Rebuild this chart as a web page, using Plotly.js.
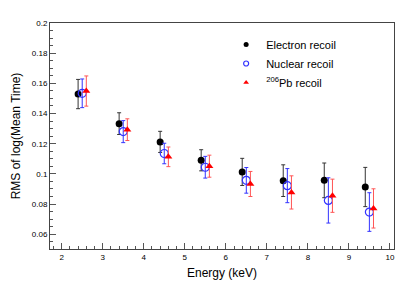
<!DOCTYPE html>
<html>
<head>
<meta charset="utf-8">
<script src="https://cdn.plot.ly/plotly-3.0.1.min.js"></script>
<style>html,body{margin:0;padding:0;background:#fff;}#chart{width:415px;height:294px;}</style>
</head>
<body>
<div id="chart"></div>
<script>
const xElectron = [2.4, 3.4, 4.4, 5.4, 6.4, 7.4, 8.4, 9.4];
const yElectron = [0.1529, 0.1333, 0.1212, 0.1090, 0.1013, 0.0955, 0.0957, 0.0913];
const eElectron = [0.0097, 0.0072, 0.0070, 0.0070, 0.0090, 0.0105, 0.0115, 0.0130];

const xNuclear = [2.5, 3.5, 4.5, 5.5, 6.5, 7.5, 8.5, 9.5];
const yNuclear = [0.1534, 0.1280, 0.1135, 0.1044, 0.0957, 0.0922, 0.0824, 0.0747];
const eNuclear = [0.0095, 0.0073, 0.0068, 0.0072, 0.0085, 0.0113, 0.0150, 0.0128];

const xPb = [2.6, 3.6, 4.6, 5.6, 6.6, 7.6, 8.6, 9.6];
const yPb = [0.1549, 0.1293, 0.1113, 0.1051, 0.0933, 0.0877, 0.0855, 0.0771];
const ePb = [0.0100, 0.0072, 0.0065, 0.0073, 0.0083, 0.0110, 0.0110, 0.0130];

const seriesNames = ['Electron recoil', 'Nuclear recoil', '<sup>206</sup>Pb recoil'];

const traces = [
  {x: xElectron, y: yElectron, name: seriesNames[0], type: 'scatter', mode: 'markers', showlegend: false,
   marker: {color: '#000000', size: 7, symbol: 'circle'},
   error_y: {type: 'data', array: eElectron, visible: true, color: '#333333', thickness: 1, width: 2}},
  {x: xNuclear, y: yNuclear, name: seriesNames[1], type: 'scatter', mode: 'markers', showlegend: false,
   marker: {color: '#3333ff', size: 8, symbol: 'circle-open', line: {width: 1.2}},
   error_y: {type: 'data', array: eNuclear, visible: true, color: '#3333ff', thickness: 1, width: 2}},
  {x: xPb, y: yPb, name: seriesNames[2], type: 'scatter', mode: 'markers', showlegend: false,
   marker: {color: '#ff0000', size: 7, symbol: 'triangle-up'},
   error_y: {type: 'data', array: ePb, visible: true, color: '#ff5555', thickness: 1, width: 2}},
  // legend-only entries with smaller symbols, as in the reference legend
  {x: [null], y: [null], name: seriesNames[0], type: 'scatter', mode: 'markers',
   marker: {color: '#000000', size: 5, symbol: 'circle'}},
  {x: [null], y: [null], name: seriesNames[1], type: 'scatter', mode: 'markers',
   marker: {color: '#3333ff', size: 5, symbol: 'circle-open', line: {width: 1.2}}},
  {x: [null], y: [null], name: seriesNames[2], type: 'scatter', mode: 'markers',
   marker: {color: '#ff0000', size: 5, symbol: 'triangle-up'}}
];

const layout = {
  width: 415, height: 294,
  margin: {l: 50, r: 21, t: 23, b: 45},
  paper_bgcolor: '#fff', plot_bgcolor: '#fff',
  font: {family: 'Liberation Sans, Arial, sans-serif', color: '#000'},
  showlegend: true,
  legend: {x: 0.512, y: 0.969, xanchor: 'left', yanchor: 'top', bgcolor: 'rgba(0,0,0,0)',
           font: {size: 11}, tracegroupgap: 0, itemsizing: 'trace'},
  xaxis: {
    range: [1.715, 10.1], showgrid: false, zeroline: false,
    showline: true, mirror: true, linecolor: '#444', linewidth: 1,
    ticks: 'inside', ticklen: 6, tickcolor: '#555', dtick: 1, tick0: 0,
    tickfont: {size: 8},
    minor: {ticks: 'inside', ticklen: 3, dtick: 0.2, tick0: 0, tickcolor: '#555', showgrid: false},
    title: {text: 'Energy (keV)', font: {size: 12}, standoff: 8}
  },
  yaxis: {
    range: [0.0502, 0.2], showgrid: false, zeroline: false,
    showline: true, mirror: true, linecolor: '#444', linewidth: 1,
    ticks: 'inside', ticklen: 6, tickcolor: '#555', dtick: 0.02, tick0: 0,
    tickfont: {size: 8},
    minor: {ticks: 'inside', ticklen: 3, dtick: 0.005, tick0: 0, tickcolor: '#555', showgrid: false},
    title: {text: 'RMS of log(Mean Time)', font: {size: 12}, standoff: 8}
  }
};

Plotly.newPlot('chart', traces, layout, {displayModeBar: false, staticPlot: true});
</script>
</body>
</html>
